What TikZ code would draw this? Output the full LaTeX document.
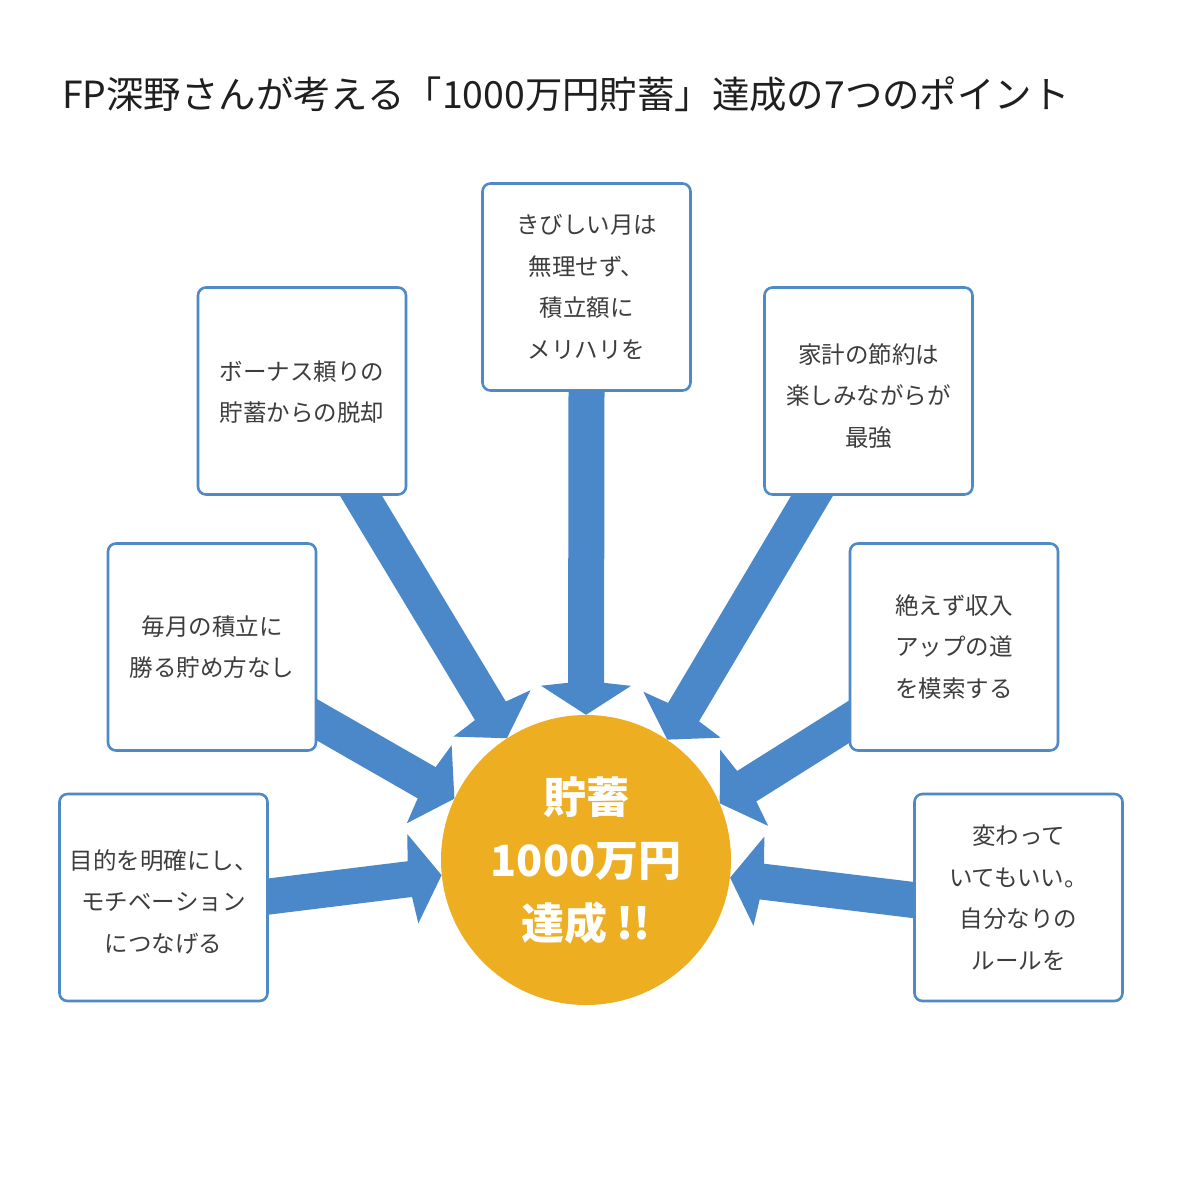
\documentclass[tikz,border=0pt]{standalone}
\usepackage{fontspec}
\setmainfont{Noto Sans CJK JP}
\usetikzlibrary{calc}
\definecolor{arrowblue}{HTML}{4A88C9}
\definecolor{boxblue}{HTML}{4F89C6}
\definecolor{goal}{HTML}{EEAE21}
\definecolor{txt}{HTML}{3D3D3D}
\pgfdeclarelayer{back}
\pgfsetlayers{back,main}
\newcommand{\fatarrow}[3]{%
  \coordinate (#3-s) at ($(#1)!-25pt!(#2)$);
  \coordinate (#3-b) at ($(#2)!29pt!(#1)$);
  \coordinate (#3-j) at ($(#2)!32pt!(#1)$);
  \coordinate (#3-e) at ($(#2)!18pt!(#1)$);
  \draw[arrowblue, line width=36pt] (#3-s) -- (#3-e);
  \fill[arrowblue] ($(#3-j)!18pt!90:(#2)$) -- ($(#3-b)!45pt!90:(#2)$) -- (#2)
    -- ($(#3-b)!45pt!-90:(#2)$) -- ($(#3-j)!18pt!-90:(#2)$) -- cycle;
}
\tikzset{
  pbox/.style={draw=boxblue, line width=2.6pt, rounded corners=8pt, fill=white,
    minimum width=208pt, minimum height=207pt, inner sep=0pt, align=center, text=txt,
    font=\fontsize{23.5pt}{41.5pt}\selectfont},
  goalnode/.style={circle, fill=goal, minimum size=290pt, inner sep=0pt, align=center,
    text=white, font=\fontsize{43pt}{63pt}\selectfont\bfseries},
}
\begin{document}
\begin{tikzpicture}[x=1pt,y=-1pt]
\useasboundingbox (0,0) rectangle (1200,1204);
\begin{pgfonlayer}{back}
\fill[white] (0,0) rectangle (1200,1204);
\end{pgfonlayer}

\node[anchor=base west, inner sep=0pt, font=\fontsize{37.4pt}{37.4pt}\selectfont, text=black!88] (title) at (62,109)
  {FP深野さんが考える「1000万円貯蓄」達成の7つのポイント};

\node[goalnode] (c) at (586,860) {貯蓄\\1000万円\\達成 !!};

\node[pbox] (b1) at (586.5,287) {きびしい月は\\無理せず、\\積立額に\\メリハリを};
\node[pbox] (b2) at (302,391) {\rule{0pt}{22pt}ボーナス頼りの\\貯蓄からの脱却};
\node[pbox] (b3) at (868.5,391) {\rule{0pt}{30pt}家計の節約は\\楽しみながらが\\最強};
\node[pbox] (b4) at (212,647) {毎月の積立に\\勝る貯め方なし};
\node[pbox] (b5) at (954,647) {絶えず収入\\アップの道\\を模索する};
\node[pbox] (b6) at (163.5,897.5) {\rule{0pt}{28pt}目的を明確にし、\\モチベーション\\につなげる};
\node[pbox] (b7) at (1018.5,897.5) {変わって\\いてもいい。\\自分なりの\\ルールを};

\coordinate (s1) at (b1.south);
\coordinate (s2) at ($(b2.south)+(59,0)$);
\coordinate (s3) at ($(b3.south)+(-56.5,0)$);
\coordinate (s4) at ($(b4.east)+(0,73)$);
\coordinate (s5) at ($(b5.west)+(0,75)$);
\coordinate (s6) at ($(b6.east)+(0,-1)$);
\coordinate (s7) at ($(b7.west)+(0,2.5)$);

\coordinate (t1) at (c.90);
\coordinate (t2) at (c.123.4);
\coordinate (t3) at (c.56.2);
\coordinate (t4) at (c.155.7);
\coordinate (t5) at (c.23.7);
\coordinate (t6) at (c.186);
\coordinate (t7) at (c.353);

\begin{pgfonlayer}{back}
\fatarrow{s1}{t1}{a1}
\fatarrow{s2}{t2}{a2}
\fatarrow{s3}{t3}{a3}
\fatarrow{s4}{t4}{a4}
\fatarrow{s5}{t5}{a5}
\fatarrow{s6}{t6}{a6}
\fatarrow{s7}{t7}{a7}
\end{pgfonlayer}
\end{tikzpicture}
\end{document}
